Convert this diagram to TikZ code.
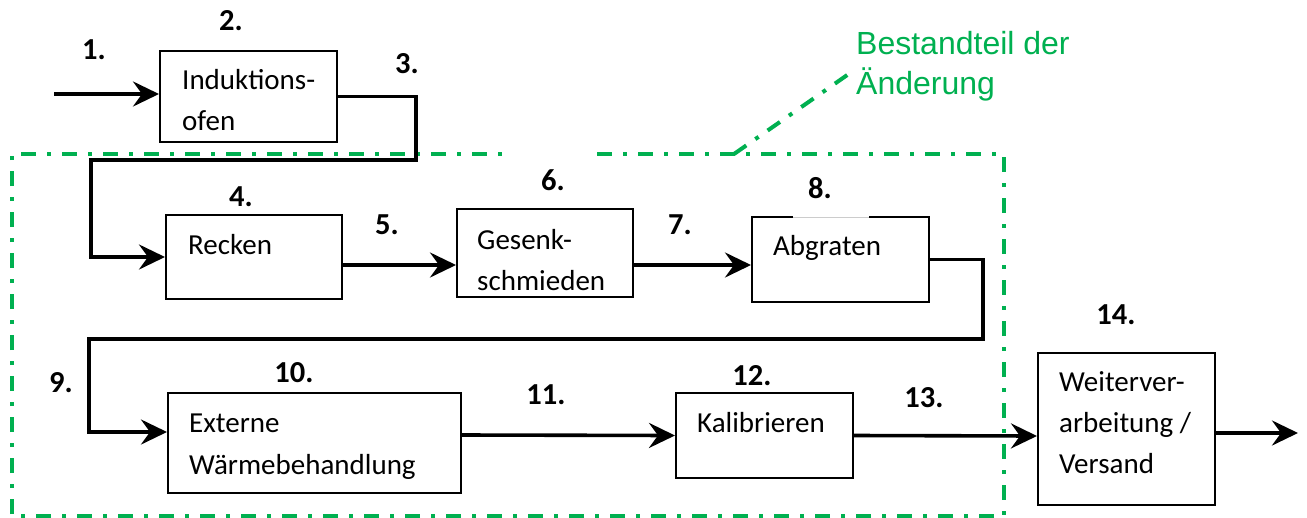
\documentclass[tikz,border=0pt]{standalone}
\usepackage{fontspec}
\setmainfont{Carlito}
\newfontfamily\arialf{Liberation Sans}
\usetikzlibrary{arrows.meta}
\definecolor{wgreen}{RGB}{0,176,80}
\tikzset{
  procbox/.style={draw=black, line width=2pt, inner sep=0pt, fill=none},
  boxtext/.style={anchor=base west, inner sep=0pt, font=\fontsize{29}{41}\selectfont},
  numlabel/.style={anchor=center, inner sep=0pt, font=\fontsize{30.5}{35}\selectfont\bfseries},
  arr/.style={draw=black, line width=3.6pt, -{Stealth[length=26pt,width=25pt,inset=9pt]}},
  conn/.style={draw=black, line width=3.6pt},
  grn/.style={draw=wgreen, line width=4pt, dash pattern=on 15pt off 11pt on 4pt off 11pt},
  grntext/.style={anchor=base west, inner sep=0pt, text=wgreen, font=\arialf\fontsize{32}{40}\selectfont}
}
\begin{document}
\begin{tikzpicture}[x=1pt,y=-1pt]
\useasboundingbox (0,0) rectangle (1307,517);

% green boundary
\draw[grn] (597,154) -- (1004,154) -- (1004,516) -- (12,516) -- (12,154) -- (512,154);
\coordinate (gdiag1) at (734,154);
\coordinate (gdiag2) at (853,71);
\draw[grn] (gdiag1) -- (gdiag2);
\node[grntext] (gt1) at (856,54) {Bestandteil der};
\node[grntext] (gt2) at (856,94) {Änderung};

% boxes
\node[procbox, minimum width=177pt, minimum height=91pt] (ofen) at (248.5,96.5) {};
\node[procbox, minimum width=176pt, minimum height=84pt] (recken) at (254,257) {};
\node[procbox, minimum width=176pt, minimum height=88pt] (gesenk) at (545,253) {};
\node[procbox, minimum width=177pt, minimum height=85pt] (abgr) at (840.5,259.5) {};
\node[procbox, minimum width=293pt, minimum height=100pt] (extern) at (314.5,443) {};
\node[procbox, minimum width=177pt, minimum height=85pt] (kalib) at (764.5,435.5) {};
\node[procbox, minimum width=177pt, minimum height=152pt] (weiter) at (1126.5,429) {};

% gap in top edge of Abgraten box
\draw[white, line width=2.6pt] (793,217) -- (869,217);
\draw[black!20, line width=0.6pt] (793,217) -- (869,217);

% box texts
\node[boxtext] (t1a) at (182,89) {Induktions-};
\node[boxtext] (t1b) at (182,130) {ofen};
\node[boxtext] (t2) at (188,254) {Recken};
\node[boxtext] (t3a) at (477,249) {Gesenk-};
\node[boxtext] (t3b) at (477,290) {schmieden};
\node[boxtext] (t4) at (773,255) {Abgraten};
\node[boxtext] (t5a) at (189,432) {Externe};
\node[boxtext] (t5b) at (189,474) {Wärmebehandlung};
\node[boxtext] (t6) at (697,432) {Kalibrieren};
\node[boxtext] (t7a) at (1059,391) {Weiterver-};
\node[boxtext] (t7b) at (1059,432) {arbeitung /};
\node[boxtext] (t7c) at (1059,473) {Versand};

% number labels
\node[numlabel] (n1) at (94,50) {1.};
\node[numlabel] (n2) at (231,21) {2.};
\node[numlabel] (n3) at (407,64) {3.};
\node[numlabel] (n4) at (241,197) {4.};
\node[numlabel] (n5) at (387,225) {5.};
\node[numlabel] (n6) at (553,180) {6.};
\node[numlabel] (n7) at (680,225) {7.};
\node[numlabel] (n8) at (820,188) {8.};
\node[numlabel] (n9) at (61,383) {9.};
\node[numlabel] (n10) at (294,373) {10.};
\node[numlabel] (n11) at (546,395) {11.};
\node[numlabel] (n12) at (752,376) {12.};
\node[numlabel] (n13) at (924,398) {13.};
\node[numlabel] (n14) at (1116,315) {14.};

% connectors
\coordinate (in) at (54,94);
\draw[arr] (in) -- ([yshift=2.5pt]ofen.west);

\coordinate (k3a) at (416,160);
\coordinate (k3b) at (91,160);
\draw[arr] (ofen.east) -| (k3a) -- (k3b) |- (recken.west);

\draw[arr] ([yshift=-8pt]recken.east) -- ([yshift=-12pt]gesenk.west);
\draw[arr] ([yshift=-12pt]gesenk.east) -- ([yshift=-5.5pt]abgr.west);

\coordinate (k9a) at (983,339);
\coordinate (k9b) at (89,339);
\draw[arr] (abgr.east) -| (k9a) -- (k9b) |- ([yshift=11pt]extern.west);

\draw[arr] ([yshift=8pt]extern.east) -- (kalib.west);
\draw[arr] (kalib.east) -- ([yshift=-7pt]weiter.west);

\coordinate (out) at (1298,433);
\draw[arr] ([yshift=-4pt]weiter.east) -- (out);
\end{tikzpicture}
\end{document}
